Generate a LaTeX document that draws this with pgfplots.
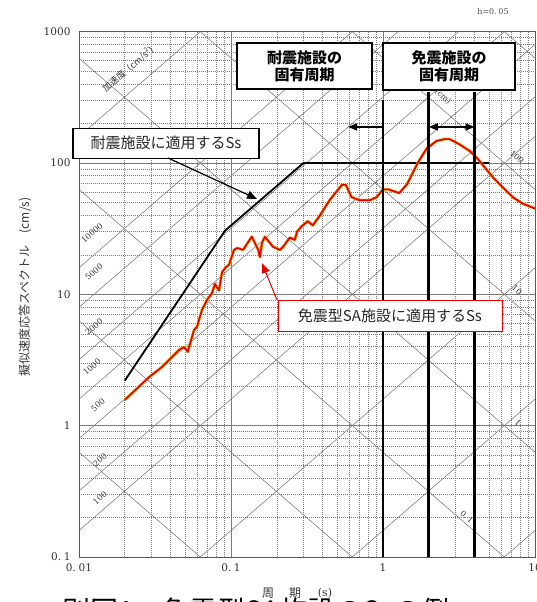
\documentclass[border=0pt]{standalone}
\usepackage{fontspec}
\usepackage{pgfplots}
\pgfplotsset{compat=1.18}
\usetikzlibrary{arrows.meta}
\setmainfont{Noto Sans CJK JP}
\newfontfamily\numf{DejaVu Serif}
\definecolor{gridc}{RGB}{125,125,125}
\definecolor{diagc}{RGB}{110,110,110}
\definecolor{sred}{RGB}{228,0,0}
\definecolor{sorange}{RGB}{245,165,20}
\begin{document}
\begin{tikzpicture}[x=1pt,y=1pt]
\useasboundingbox (0,0) rectangle (537,602);
% tripartite diagonals: acceleration (decades, plus 200, 500, 2000, 5000) and displacement (decades)
\begin{scope}
\clip (79,45) rectangle (535,570.4);
\foreach \la in {-1,0,1,2,2.30103,2.69897,3,3.30103,3.69897,4,5,6}{
    \pgfmathsetmacro\ya{45+131.35*(\la-1.79818)}
    \pgfmathsetmacro\yb{45+131.35*(\la+1.20182)}
    \draw[diagc, line width=0.5pt] (79,\ya) -- (535,\yb);
}
\foreach \k in {-5,...,3}{
  \pgfmathsetmacro\ya{45+131.35*(\k+3.79818)}
  \pgfmathsetmacro\yb{45+131.35*(\k+0.79818)}
  \draw[diagc, line width=0.5pt] (79,\ya) -- (535,\yb);
}
\end{scope}
\begin{axis}[
  at={(79pt,45pt)}, anchor=south west, scale only axis,
  width=456pt, height=525.4pt,
  xmode=log, ymode=log,
  xmin=0.01, xmax=10, ymin=0.1, ymax=1000,
  axis line style={black!65, line width=0.8pt},
  xtick={0.01,0.1,1,10}, xticklabels={0.\hspace{0.25em}01,0.\hspace{0.25em}1,1,10},
  ytick={0.1,1,10,100,1000}, yticklabels={0.\hspace{0.25em}1,1,10,100,1000},
  minor xtick={0.02,0.03,0.04,0.05,0.06,0.07,0.08,0.09,0.2,0.3,0.4,0.5,0.6,0.7,0.8,0.9,2,3,4,5,6,7,8,9},
  minor ytick={0.2,0.3,0.4,0.5,0.6,0.7,0.8,0.9,2,3,4,5,6,7,8,9,20,30,40,50,60,70,80,90,200,300,400,500,600,700,800,900},
  grid=both,
  major grid style={gridc, line width=0.7pt},
  minor grid style={gridc, line width=0.5pt, dash pattern=on 1pt off 1pt},
  major tick length=0pt, minor tick length=0pt,
  tick label style={font=\numf\fontsize{10.5}{12}\selectfont, text=black!80},
  yticklabel style={xshift=-5pt},
  xticklabel style={yshift=-3pt},
]
% Ss applied to seismic-resistant facilities (black)
\addplot[black, line width=1.8pt, line join=round] coordinates {
(0.02,2.2) (0.0913,30.5) (0.3,100) (5,100)};
% Ss applied to seismically isolated SA facilities (red over orange)
\addplot[sorange, line width=2.8pt, line join=round] coordinates {
(0.02,1.57) (0.0289,2.34) (0.0352,2.80) (0.0455,3.77) (0.0491,3.97) (0.052,3.65)
(0.0571,5.35) (0.0597,5.64) (0.0644,7.59) (0.0695,9.04) (0.075,10.2) (0.0784,12.0)
(0.0834,10.7) (0.0873,14.7) (0.0927,16.1) (0.0971,16.8) (0.1047,21.8) (0.110,22.5)
(0.120,21.8) (0.137,27.5) (0.151,21.8) (0.155,19.2) (0.160,24.7) (0.167,27.4)
(0.189,23.0) (0.210,21.8) (0.22,23) (0.244,27) (0.263,26) (0.272,30) (0.292,33)
(0.32,36) (0.345,33.5) (0.38,39) (0.445,52) (0.536,68) (0.57,68) (0.62,55) (0.70,52)
(0.82,52) (0.91,55) (1.0,63) (1.08,63) (1.28,59) (1.44,69) (1.70,101) (1.94,129)
(2.25,147) (2.55,152) (2.74,152) (3.17,139) (3.73,123) (4.16,109) (4.58,95)
(5.3,77.5) (6.15,65) (7.2,54.5) (8.3,49) (10,45)};
\addplot[sred, line width=1.6pt, line join=round] coordinates {
(0.02,1.57) (0.0289,2.34) (0.0352,2.80) (0.0455,3.77) (0.0491,3.97) (0.052,3.65)
(0.0571,5.35) (0.0597,5.64) (0.0644,7.59) (0.0695,9.04) (0.075,10.2) (0.0784,12.0)
(0.0834,10.7) (0.0873,14.7) (0.0927,16.1) (0.0971,16.8) (0.1047,21.8) (0.110,22.5)
(0.120,21.8) (0.137,27.5) (0.151,21.8) (0.155,19.2) (0.160,24.7) (0.167,27.4)
(0.189,23.0) (0.210,21.8) (0.22,23) (0.244,27) (0.263,26) (0.272,30) (0.292,33)
(0.32,36) (0.345,33.5) (0.38,39) (0.445,52) (0.536,68) (0.57,68) (0.62,55) (0.70,52)
(0.82,52) (0.91,55) (1.0,63) (1.08,63) (1.28,59) (1.44,69) (1.70,101) (1.94,129)
(2.25,147) (2.55,152) (2.74,152) (3.17,139) (3.73,123) (4.16,109) (4.58,95)
(5.3,77.5) (6.15,65) (7.2,54.5) (8.3,49) (10,45)};
% natural period markers
\draw[black, line width=2.6pt] (axis cs:1,301) -- (axis cs:1,0.1);
\draw[black, line width=2.6pt] (axis cs:2,349) -- (axis cs:2,0.1);
\draw[black, line width=2.6pt] (axis cs:4,349) -- (axis cs:4,0.1);
\draw[black, line width=1.4pt, -{Triangle[length=9pt,width=7pt]}] (axis cs:1,188) -- (axis cs:0.589,188);
\draw[black, line width=1.4pt, {Triangle[length=9pt,width=7pt]}-{Triangle[length=9pt,width=7pt]}] (axis cs:2,188) -- (axis cs:4,188);
\end{axis}
% boxes
\node[draw=black, line width=1.3pt, fill=white, minimum width=135pt, minimum height=46pt, inner sep=0pt, align=center, font=\bfseries\fontsize{15}{17}\selectfont] at (304.5,536) {耐震施設の\\固有周期};
\node[draw=black, line width=1.3pt, fill=white, minimum width=132pt, minimum height=47pt, inner sep=0pt, align=center, font=\bfseries\fontsize{15}{17}\selectfont] at (449,535.5) {免震施設の\\固有周期};
\node[draw=black, line width=1.3pt, fill=white, minimum width=186pt, minimum height=30pt, inner sep=0pt, font=\fontsize{15}{17}\selectfont, text=black!85] at (166,458.7) {耐震施設に適用するSs};
\node[draw=sred, line width=1pt, fill=white, minimum width=224pt, minimum height=31.5pt, inner sep=0pt, font=\fontsize{15}{17}\selectfont, text=black!85] at (390,286) {免震型SA施設に適用するSs};
% leader arrows
\draw[black, line width=1.2pt, -{Triangle[length=10pt,width=8pt]}] (168,444) -- (257,403);
\draw[sred, line width=1pt, -{Triangle[length=10pt,width=8pt]}] (277,302) -- (262,339);
% line labels
\begin{scope}[font=\numf\fontsize{8}{9}\selectfont, text=black!80]
\node[rotate=41] at (92,369) {10000};
\node[rotate=41] at (94,330) {5000};
\node[rotate=41] at (94,275) {2000};
\node[rotate=41] at (92,235) {1000};
\node[rotate=41] at (98,197) {500};
\node[rotate=41] at (100,142) {200};
\node[rotate=41] at (100,104) {100};
\node[rotate=-41] at (517,445) {100};
\node[rotate=-41] at (517,312) {10};
\node[rotate=-41] at (518,179) {1};
\node[rotate=-41] at (467,85) {0.\hspace{0.2em}1};
\node[rotate=-41] at (443,505) {(cm)};
\end{scope}
\node[rotate=41, font=\fontsize{9}{10}\selectfont, text=black!80] at (130,534.5) {加速度（cm/s\textsuperscript{2}）};
\node[font=\numf\fontsize{8}{9}\selectfont, text=black!70] at (493,590) {h=0.\hspace{0.2em}05};
% axis titles
\node[rotate=90, font=\fontsize{12}{13}\selectfont, text=black!80] at (25,315) {擬似速度応答スペクトル\hspace{1em}(cm/s)};
\node[font=\fontsize{12}{13}\selectfont, text=black!80] at (268,9) {周};
\node[font=\fontsize{12}{13}\selectfont, text=black!80] at (295,9) {期};
\node[font=\numf\fontsize{11}{12}\selectfont, text=black!80] at (325,9) {(s)};
% caption, cut by the page edge as in the reference
\node[anchor=base west, inner sep=0pt, font=\fontsize{28}{30}\selectfont] at (62,-19) {別図1　免震型SA施設のSsの例};
\end{tikzpicture}
\end{document}
